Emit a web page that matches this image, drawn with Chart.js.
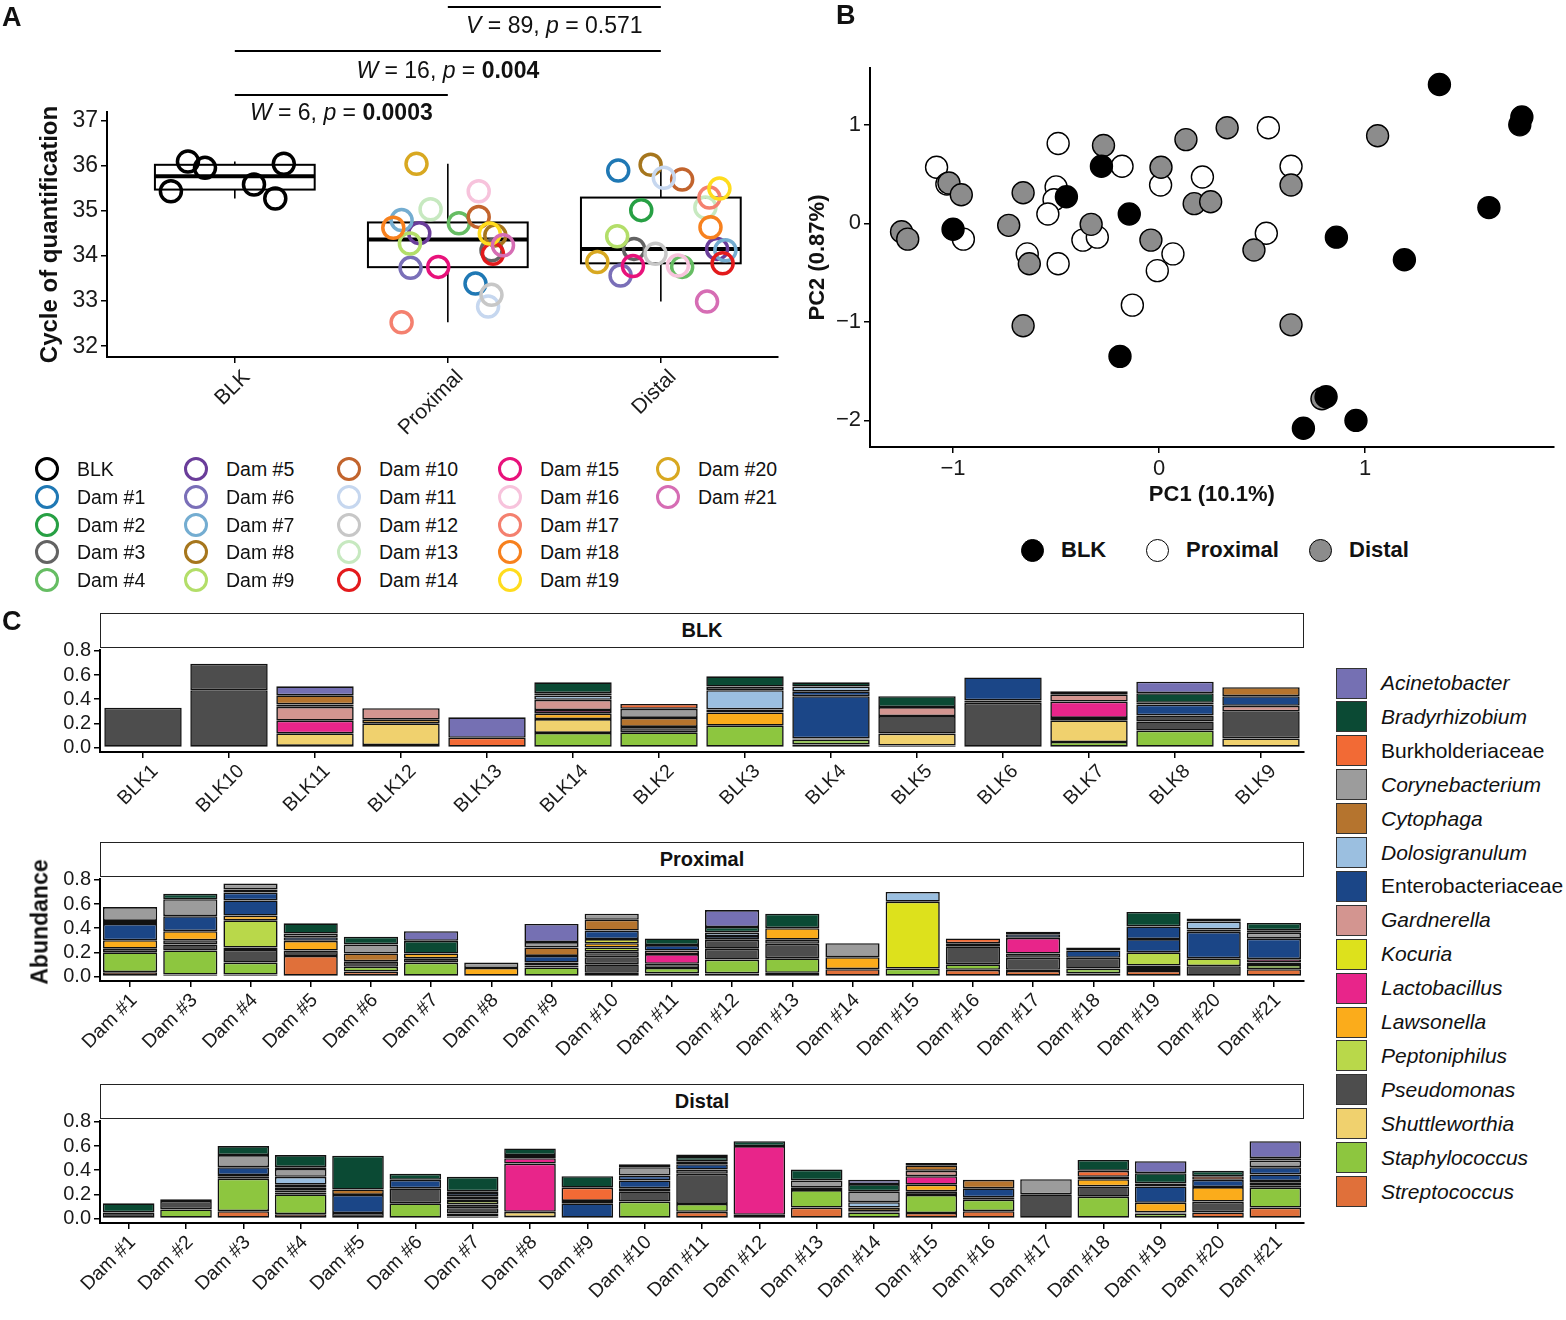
<!DOCTYPE html>
<html>
<head>
<meta charset="utf-8">
<script src="https://cdn.jsdelivr.net/npm/chart.js@4.4.1/dist/chart.umd.min.js"></script>
<style>
  body { margin: 0; background: #fff; font-family: 'Liberation Sans', Arial, sans-serif; color: #111; }
  #page { position: relative; width: 1566px; height: 1320px; overflow: hidden; }
  canvas { position: absolute; }
  .abs { position: absolute; white-space: nowrap; }
  .letter { font-weight: bold; font-size: 27px; }
  .strip { position: absolute; left: 100px; width: 1204px; border: 1.5px solid #222; box-sizing: border-box;
           background: #fff; text-align: center; font-weight: bold; font-size: 20px; }
  .ring { position: absolute; width: 24px; height: 24px; border-radius: 50%; box-sizing: border-box; border: 3.5px solid #000; }
  .dot { position: absolute; width: 23px; height: 23px; border-radius: 50%; box-sizing: border-box; border: 1.5px solid #000; }
  .sq { position: absolute; width: 31px; height: 31px; box-sizing: border-box; border: 1.5px solid #333; }
</style>
</head>
<body>
<div id="page">
  <canvas id="cqChart" width="800" height="450" style="left:0;top:0"></canvas>
  <canvas id="pcaChart" width="766" height="520" style="left:800px;top:0"></canvas>
  <canvas id="blkChart" width="1320" height="200" style="left:0;top:635px"></canvas>
  <canvas id="proxChart" width="1320" height="215" style="left:0;top:864px"></canvas>
  <canvas id="distChart" width="1320" height="214" style="left:0;top:1106px"></canvas>

  <div class="abs letter" style="left:2px;top:2px">A</div>
  <div class="abs letter" style="left:836px;top:0px">B</div>
  <div class="abs letter" style="left:2px;top:606px">C</div>

  <div class="strip" style="top:613px;height:35px;line-height:32px">BLK</div>
  <div class="strip" style="top:842px;height:35px;line-height:32px">Proximal</div>
  <div class="strip" style="top:1084px;height:35px;line-height:32px">Distal</div>
  <div class="abs" style="left:40px;top:922px;transform:translate(-50%,-50%) rotate(-90deg);font-weight:bold;font-size:23px">Abundance</div>

  <div id="legendA"></div>
  <div id="legendB"></div>
  <div id="legendC"></div>
</div>

<script>
// ---------- panel A: Cq values ----------
const groups = ['BLK', 'Proximal', 'Distal'];
const damColors = ['#1f78b4', '#27a044', '#636363', '#66bd63', '#6a3d9a', '#7a6fb8', '#74add1',
  '#a6761d', '#b3de69', '#c2642d', '#c6d7ef', '#c7c7c7', '#c7e9c0', '#e31a1c',
  '#e8127b', '#f7c3dc', '#f4806f', '#f7811e', '#ffdc1e', '#d8a821', '#d66db4'];

const blkCq = [35.44, 36.10, 35.96, 35.59, 35.28, 36.05];
const blkJitter = [-0.30, -0.22, -0.14, 0.09, 0.19, 0.23];

const proxDams = [1, 3, 4, 5, 6, 7, 8, 9, 10, 11, 12, 13, 14, 15, 16, 17, 18, 19, 20, 21];
const proxCq = [33.39, 34.13, 34.73, 34.51, 33.74, 34.80, 34.46, 34.28, 34.87, 32.88,
  33.14, 35.04, 34.05, 33.76, 35.44, 32.53, 34.63, 34.50, 36.05, 34.24];
const proxJitter = [0.13, 0.205, 0.052, -0.134, -0.175, -0.217, 0.223, -0.178, 0.145, 0.189,
  0.205, -0.081, 0.212, -0.045, 0.145, -0.217, -0.256, 0.197, -0.147, 0.259];

const distDams = [1, 2, 3, 4, 5, 6, 7, 8, 9, 10, 11, 12, 13, 14, 15, 16, 17, 18, 19, 20, 21];
const distCq = [35.90, 35.02, 34.16, 33.76, 34.16, 33.57, 34.13, 36.03, 34.44, 35.70, 35.74,
  34.05, 35.08, 33.84, 33.78, 33.79, 35.30, 34.64, 35.50, 33.87, 32.99];
const distJitter = [-0.20, -0.092, -0.126, 0.10, 0.264, -0.189, 0.303, -0.048, -0.205, 0.10, 0.014,
  -0.025, 0.209, 0.29, -0.131, 0.08, 0.228, 0.233, 0.275, -0.298, 0.217];

const cqTicks = [32, 33, 34, 35, 36, 37];

// ---------- panel B: PCA ----------
const pcaBlkX = [1.36, 1.76, 1.75, 1.60, 0.86, 1.19, -0.145, -0.28, -0.45, -1.0, -0.19, 0.81, 0.70, 0.955];
const pcaBlkY = [1.41, 1.08, 1.00, 0.16, -0.14, -0.37, 0.095, 0.58, 0.27, -0.06, -1.35, -1.76, -2.08, -2.00];
const pcaProxX = [-1.08, -1.03, -0.95, -0.49, -0.50, -0.51, -0.54, -0.37, -0.30, -0.18, -0.64, -0.49,
  0.007, 0.21, 0.067, -0.009, -0.13, 0.53, 0.64, 0.52];
const pcaProxY = [0.57, 0.40, -0.16, 0.81, 0.37, 0.24, 0.095, -0.17, -0.14, 0.58, -0.31, -0.41,
  0.39, 0.47, -0.31, -0.48, -0.83, 0.97, 0.58, -0.10];
const pcaDistX = [-1.25, -1.22, -1.02, -0.96, -0.66, -0.73, -0.63, -0.66, -0.27, -0.33, 0.009,
  -0.04, 0.13, 0.17, 0.25, 0.33, 0.46, 0.64, 0.64, 1.06, 0.79];
const pcaDistY = [-0.085, -0.16, 0.41, 0.29, 0.31, -0.02, -0.41, -1.04, 0.79, -0.01, 0.57,
  -0.17, 0.85, 0.20, 0.22, 0.97, -0.27, 0.39, -1.03, 0.89, -1.78];

// ---------- panel C: taxa ----------
const taxa = ['Acinetobacter', 'Bradyrhizobium', 'Burkholderiaceae', 'Corynebacterium', 'Cytophaga',
  'Dolosigranulum', 'Enterobacteriaceae', 'Gardnerella', 'Kocuria', 'Lactobacillus', 'Lawsonella',
  'Peptoniphilus', 'Pseudomonas', 'Shuttleworthia', 'Staphylococcus', 'Streptococcus'];
const taxaCodes = ['Acin', 'Brad', 'Burk', 'Cory', 'Cyto', 'Dolo', 'Ente', 'Gard', 'Koc', 'Lact',
  'Laws', 'Pept', 'Pseu', 'Shut', 'Stap', 'Strp'];
const taxaColors = ['#7570b3', '#0b4a34', '#f26a35', '#9c9c9c', '#b5742e', '#9bbfe0', '#1b4687',
  '#d39590', '#dde11c', '#e8258a', '#fbac1b', '#b9d84a', '#4d4d4d', '#f0d16e', '#8dc63f', '#e0703a'];
const familyNames = ['Burkholderiaceae', 'Enterobacteriaceae'];
const abundanceTicks = [0, 0.2, 0.4, 0.6, 0.8];

// segments per sample; an array means several segments of one taxon, top first
const blkSamples = ['BLK1', 'BLK10', 'BLK11', 'BLK12', 'BLK13', 'BLK14', 'BLK2',
  'BLK3', 'BLK4', 'BLK5', 'BLK6', 'BLK7', 'BLK8', 'BLK9'];
const blkStacks = [
  { Pseu: 0.33 },
  { Pseu: [0.22, 0.474] },
  { Acin: 0.075, Cyto: 0.075, Dolo: 0.02, Gard: 0.115, Lact: 0.105, Shut: 0.105, Stap: 0.012 },
  { Gard: 0.095, Laws: 0.03, Shut: 0.18, Stap: 0.02 },
  { Acin: 0.17, Burk: 0.08 },
  { Brad: 0.09, Burk: 0.02, Dolo: 0.035, Gard: 0.085, Lact: 0.03, Laws: 0.045, Shut: 0.115, Stap: 0.12 },
  { Burk: 0.04, Cory: 0.075, Cyto: 0.075, Pseu: 0.045, Stap: 0.125 },
  { Brad: 0.085, Cory: 0.03, Dolo: 0.16, Ente: 0.025, Laws: 0.11, Stap: 0.18 },
  { Brad: 0.035, Dolo: 0.04, Ente: [0.04, 0.35], Pseu: 0.01, Stap: 0.04, Strp: 0.025 },
  { Brad: 0.09, Gard: 0.075, Pseu: 0.145, Shut: 0.1, Stap: 0.015 },
  { Ente: 0.19, Pseu: [0.02, 0.37] },
  { Brad: 0.025, Gard: 0.06, Lact: 0.135, Pseu: 0.02, Shut: 0.18, Stap: 0.045 },
  { Acin: 0.095, Brad: 0.08, Ente: [0.015, 0.09], Pseu: [0.05, 0.075], Stap: 0.14 },
  { Cyto: 0.075, Ente: 0.08, Gard: 0.045, Pseu: 0.225, Shut: 0.075 }
];

const proxSamples = proxDams.map(d => 'Dam #' + d);
const proxStacks = [
  { Cory: 0.115, Ente: [0.025, 0.135], Laws: 0.07, Pseu: 0.03, Stap: 0.165, Strp: 0.035 },
  { Brad: 0.045, Cory: 0.14, Ente: 0.125, Laws: 0.075, Pseu: [0.035, 0.05], Stap: 0.2, Strp: 0.015 },
  { Cory: 0.05, Dolo: 0.025, Ente: [0.065, 0.125], Laws: 0.04, Pept: 0.225, Pseu: [0.02, 0.105], Stap: 0.1, Strp: 0.015 },
  { Brad: 0.085, Cory: 0.03, Ente: 0.03, Laws: 0.08, Pseu: 0.045, Strp: 0.17 },
  { Brad: 0.065, Cory: 0.075, Cyto: 0.065, Pseu: 0.045, Stap: 0.04, Strp: 0.04 },
  { Acin: 0.08, Brad: 0.105, Laws: 0.04, Pseu: 0.035, Stap: 0.115 },
  { Cory: 0.045, Laws: 0.07 },
  { Acin: 0.15, Cory: 0.045, Cyto: 0.07, Ente: 0.055, Laws: 0.025, Pseu: 0.015, Stap: 0.075 },
  { Cory: 0.05, Cyto: 0.09, Ente: 0.07, Koc: 0.035, Laws: 0.035, Pept: 0.035, Pseu: [0.045, 0.06, 0.07, 0.03] },
  { Brad: 0.055, Ente: 0.045, Gard: 0.03, Lact: 0.08, Pseu: 0.035, Stap: 0.045, Strp: 0.025 },
  { Acin: 0.14, Brad: 0.045, Dolo: 0.03, Ente: 0.03, Pseu: [0.075, 0.09], Stap: 0.115, Strp: 0.025 },
  { Brad: 0.12, Laws: 0.095, Pseu: [0.035, 0.12], Stap: 0.12, Strp: 0.03 },
  { Cory: 0.115, Laws: 0.1, Strp: 0.06 },
  { Dolo: 0.08, Koc: 0.555, Stap: 0.065 },
  { Burk: 0.04, Pseu: [0.025, 0.15], Stap: 0.045, Strp: 0.055 },
  { Burk: 0.02, Ente: 0.03, Lact: 0.13, Pseu: [0.035, 0.1, 0.01], Strp: 0.045 },
  { Brad: 0.025, Ente: 0.06, Pseu: 0.09, Stap: 0.04, Strp: 0.025 },
  { Brad: 0.12, Ente: [0.105, 0.11], Pept: 0.11, Pseu: 0.02, Stap: 0.025, Strp: 0.045 },
  { Brad: 0.025, Dolo: 0.065, Ente: [0.02, 0.22], Pept: 0.065, Pseu: 0.085 },
  { Brad: 0.06, Burk: 0.02, Cory: 0.05, Ente: 0.17, Lact: 0.028, Pseu: 0.02, Stap: 0.035, Strp: 0.06 }
];

const distSamples = distDams.map(d => 'Dam #' + d);
const distStacks = [
  { Brad: 0.075, Pseu: 0.05 },
  { Brad: 0.015, Pseu: 0.07, Stap: 0.075 },
  { Brad: 0.075, Cory: 0.1, Ente: 0.065, Pseu: [0.015, 0.015], Stap: 0.27, Strp: 0.06 },
  { Brad: 0.1, Burk: 0.015, Cory: 0.065, Dolo: 0.065, Ente: 0.025, Laws: 0.025, Pseu: 0.015, Shut: 0.015, Stap: 0.165, Strp: 0.035 },
  { Brad: 0.28, Cyto: 0.045, Ente: 0.15, Pseu: 0.045 },
  { Brad: 0.05, Ente: 0.07, Pseu: 0.125, Stap: 0.125 },
  { Brad: 0.12, Cyto: 0.015, Ente: 0.03, Lact: 0.02, Laws: 0.015, Pept: 0.03, Pseu: [0.03, 0.045], Stap: 0.025, Strp: 0.015 },
  { Brad: 0.055, Gard: 0.025, Lact: [0.045, 0.4], Shut: 0.045, Stap: 0.01 },
  { Brad: 0.095, Burk: 0.11, Cyto: 0.02, Ente: 0.125 },
  { Brad: 0.025, Cory: 0.07, Ente: [0.04, 0.065], Pseu: [0.025, 0.085], Stap: 0.14 },
  { Acin: 0.02, Brad: 0.035, Ente: [0.025, 0.045], Pseu: [0.035, 0.25], Stap: 0.065, Strp: 0.055 },
  { Brad: 0.04, Lact: 0.57, Pseu: 0.03 },
  { Brad: 0.09, Cory: 0.06, Laws: 0.02, Stap: 0.145, Strp: 0.09 },
  { Acin: 0.035, Brad: 0.06, Cory: 0.09, Dolo: 0.045, Laws: 0.03, Pseu: 0.01, Stap: 0.05 },
  { Brad: 0.02, Cyto: 0.045, Gard: 0.045, Lact: 0.07, Laws: 0.055, Pseu: 0.03, Stap: 0.15, Strp: 0.045 },
  { Cyto: 0.07, Ente: 0.075, Laws: 0.02, Stap: 0.095, Strp: 0.06 },
  { Cory: 0.125, Pseu: 0.2 },
  { Brad: 0.09, Burk: 0.05, Cory: 0.02, Laws: 0.06, Pseu: 0.085, Stap: 0.18 },
  { Acin: 0.1, Brad: [0.085, 0.025], Ente: 0.135, Laws: 0.08, Pseu: 0.01, Stap: 0.04 },
  { Brad: 0.045, Burk: 0.03, Ente: 0.06, Laws: 0.12, Pseu: 0.09, Strp: 0.05 },
  { Acin: 0.14, Brad: 0.02, Cory: 0.055, Ente: [0.06, 0.055], Laws: 0.015, Pseu: [0.02, 0.02], Stap: 0.165, Strp: 0.09 }
];

// ---------- common ----------
const FONT = "'Liberation Sans', Arial, sans-serif";
Chart.defaults.font.family = FONT;
Chart.defaults.color = '#1a1a1a';

function axisGrid() {
  return { display: true, drawOnChartArea: false, color: '#000', lineWidth: 1.5, tickLength: 6 };
}
const axisBorder = { display: true, color: '#000', width: 2 };

// ---------- A ----------
function quantile(sorted, q) {
  const pos = (sorted.length - 1) * q, lo = Math.floor(pos), hi = Math.ceil(pos);
  return sorted[lo] + (sorted[hi] - sorted[lo]) * (pos - lo);
}

const cqGroups = [blkCq, proxCq, distCq];

const boxPlugin = {
  id: 'boxes',
  beforeDatasetsDraw(chart) {
    const { ctx, scales: { x, y } } = chart;
    ctx.save();
    ctx.strokeStyle = '#000';
    cqGroups.forEach((vals, i) => {
      const s = [...vals].sort((a, b) => a - b);
      const q1 = quantile(s, 0.25), med = quantile(s, 0.5), q3 = quantile(s, 0.75);
      const iqr = q3 - q1;
      const lo = Math.min(...s.filter(v => v >= q1 - 1.5 * iqr));
      const hi = Math.max(...s.filter(v => v <= q3 + 1.5 * iqr));
      const cx = x.getPixelForValue(i + 1);
      const x0 = x.getPixelForValue(i + 1 - 0.375), x1 = x.getPixelForValue(i + 1 + 0.375);
      ctx.lineWidth = 1.6;
      ctx.beginPath();
      ctx.moveTo(cx, y.getPixelForValue(q3)); ctx.lineTo(cx, y.getPixelForValue(hi));
      ctx.moveTo(cx, y.getPixelForValue(q1)); ctx.lineTo(cx, y.getPixelForValue(lo));
      ctx.stroke();
      ctx.lineWidth = 2;
      ctx.strokeRect(x0, y.getPixelForValue(q3), x1 - x0, y.getPixelForValue(q1) - y.getPixelForValue(q3));
      ctx.lineWidth = 4;
      ctx.beginPath();
      ctx.moveTo(x0, y.getPixelForValue(med)); ctx.lineTo(x1, y.getPixelForValue(med));
      ctx.stroke();
    });
    ctx.restore();
  }
};

// pairwise tests drawn above the plot
const tests = [
  { from: 2, to: 3, lineY: 7, textY: 27, parts: [['V', 'italic'], [' = 89, '], ['p', 'italic'], [' = 0.571']] },
  { from: 1, to: 3, lineY: 51, textY: 72, parts: [['W', 'italic'], [' = 16, '], ['p', 'italic'], [' = '], ['0.004', 'bold']] },
  { from: 1, to: 2, lineY: 95, textY: 114, parts: [['W', 'italic'], [' = 6, '], ['p', 'italic'], [' = '], ['0.0003', 'bold']] }
];

const testPlugin = {
  id: 'tests',
  afterDraw(chart) {
    const { ctx, scales: { x } } = chart;
    ctx.save();
    tests.forEach(t => {
      const xa = x.getPixelForValue(t.from), xb = x.getPixelForValue(t.to);
      ctx.strokeStyle = '#000'; ctx.lineWidth = 2;
      ctx.beginPath(); ctx.moveTo(xa, t.lineY); ctx.lineTo(xb, t.lineY); ctx.stroke();
      const fonts = t.parts.map(p => (p[1] || '') + ' 23px ' + FONT);
      let w = 0;
      t.parts.forEach((p, i) => { ctx.font = fonts[i]; w += ctx.measureText(p[0]).width; });
      let px = (xa + xb) / 2 - w / 2;
      ctx.fillStyle = '#111'; ctx.textBaseline = 'middle'; ctx.textAlign = 'left';
      t.parts.forEach((p, i) => { ctx.font = fonts[i]; ctx.fillText(p[0], px, t.textY); px += ctx.measureText(p[0]).width; });
    });
    ctx.restore();
  }
};

const cqPoints = [], cqColors = [];
blkCq.forEach((v, i) => { cqPoints.push({ x: 1 + blkJitter[i], y: v }); cqColors.push('#000'); });
proxCq.forEach((v, i) => { cqPoints.push({ x: 2 + proxJitter[i], y: v }); cqColors.push(damColors[proxDams[i] - 1]); });
distCq.forEach((v, i) => { cqPoints.push({ x: 3 + distJitter[i], y: v }); cqColors.push(damColors[distDams[i] - 1]); });

new Chart(document.getElementById('cqChart'), {
  type: 'scatter',
  data: { datasets: [{ data: cqPoints, borderColor: cqColors, backgroundColor: 'rgba(0,0,0,0)',
    pointRadius: 10.5, pointBorderWidth: 3.5 }] },
  options: {
    responsive: false, animation: false, events: [],
    layout: { padding: { top: 112, right: 22, left: 0, bottom: 0 } },
    plugins: { legend: { display: false }, tooltip: { enabled: false } },
    scales: {
      x: {
        type: 'linear', min: 0.4, max: 3.55,
        grid: axisGrid(), border: axisBorder,
        afterBuildTicks: s => { s.ticks = [1, 2, 3].map(v => ({ value: v })); },
        afterFit: s => { s.height = 93; },
        ticks: { minRotation: 45, maxRotation: 45, font: { size: 21 }, padding: 2, labelOffset: 12,
          callback: v => groups[v - 1] }
      },
      y: {
        min: 31.76, max: 37.2,
        grid: axisGrid(), border: axisBorder,
        afterBuildTicks: s => { s.ticks = cqTicks.map(v => ({ value: v })); },
        afterFit: s => { s.width = 107; },
        ticks: { font: { size: 23 }, padding: 3, autoSkip: false },
        title: { display: true, text: 'Cycle of quantification', font: { size: 24, weight: 'bold' },
          color: '#111', padding: { top: 36, bottom: 0 } }
      }
    }
  },
  plugins: [boxPlugin, testPlugin]
});

// legend A
const legendA = document.getElementById('legendA');
const legendAItems = [['BLK', '#000']].concat(damColors.map((c, i) => ['Dam #' + (i + 1), c]));
const colCircleX = [47, 196, 349, 510, 668];
legendAItems.forEach((item, i) => {
  const col = Math.floor(i / 5), row = i % 5;
  const cy = 469 + row * 27.8;
  legendA.insertAdjacentHTML('beforeend',
    `<div class="ring" style="left:${colCircleX[col] - 12}px;top:${cy - 12}px;border-color:${item[1]}"></div>` +
    `<div class="abs" style="left:${colCircleX[col] + 30}px;top:${cy - 12}px;font-size:19.5px;line-height:24px">${item[0]}</div>`);
});

// ---------- B ----------
const toXY = (xs, ys) => xs.map((v, i) => ({ x: v, y: ys[i] }));
const minusFmt = v => (v < 0 ? '\u2212' + Math.abs(v) : String(v));

new Chart(document.getElementById('pcaChart'), {
  type: 'scatter',
  data: {
    datasets: [
      { label: 'BLK', data: toXY(pcaBlkX, pcaBlkY), backgroundColor: '#000', borderColor: '#000' },
      { label: 'Distal', data: toXY(pcaDistX, pcaDistY), backgroundColor: '#8c8c8c', borderColor: '#000' },
      { label: 'Proximal', data: toXY(pcaProxX, pcaProxY), backgroundColor: '#fff', borderColor: '#000' }
    ]
  },
  options: {
    responsive: false, animation: false, events: [],
    elements: { point: { radius: 11, borderWidth: 1.4 } },
    layout: { padding: { top: 68, right: 1, left: 0, bottom: 0 } },
    plugins: { legend: { display: false }, tooltip: { enabled: false } },
    scales: {
      x: {
        type: 'linear', min: -1.403, max: 1.914,
        grid: axisGrid(), border: axisBorder,
        afterBuildTicks: s => { s.ticks = [-1, 0, 1].map(v => ({ value: v })); },
        afterFit: s => { s.height = 73; },
        ticks: { maxRotation: 0, font: { size: 22 }, padding: 3, callback: minusFmt },
        title: { display: true, text: 'PC1 (10.1%)', font: { size: 22, weight: 'bold' }, color: '#111',
          padding: { top: 0, bottom: 12 } }
      },
      y: {
        min: -2.27, max: 1.577,
        grid: axisGrid(), border: axisBorder,
        afterBuildTicks: s => { s.ticks = [-2, -1, 0, 1].map(v => ({ value: v })); },
        afterFit: s => { s.width = 70; },
        ticks: { font: { size: 22 }, padding: 3, callback: minusFmt, autoSkip: false },
        title: { display: true, text: 'PC2 (0.87%)', font: { size: 22, weight: 'bold' }, color: '#111',
          padding: { top: 5, bottom: 0 } }
      }
    }
  }
});

// legend B
const legendB = document.getElementById('legendB');
[['BLK', '#000', 1032], ['Proximal', '#fff', 1157], ['Distal', '#8c8c8c', 1320]].forEach(item => {
  legendB.insertAdjacentHTML('beforeend',
    `<div class="dot" style="left:${item[2] - 11.5}px;top:${550 - 11.5}px;background:${item[1]}"></div>` +
    `<div class="abs" style="left:${item[2] + 29}px;top:537px;font-size:22px;font-weight:bold;line-height:26px">${item[0]}</div>`);
});

// ---------- C ----------
function buildDatasets(stacks) {
  const sets = [];
  for (let t = taxa.length - 1; t >= 0; t--) {
    const parts = stacks.map(s => (s[taxaCodes[t]] === undefined ? [] : [].concat(s[taxaCodes[t]])));
    const depth = Math.max(0, ...parts.map(p => p.length));
    for (let j = depth - 1; j >= 0; j--) {
      sets.push({
        label: taxa[t],
        data: parts.map(p => (p[j] === undefined ? null : p[j])),
        backgroundColor: taxaColors[t],
        borderColor: '#111',
        borderWidth: 1.6,
        borderSkipped: false,
        barPercentage: 0.9,
        categoryPercentage: 1
      });
    }
  }
  return sets;
}

function facetChart(id, labels, stacks, xHeight, shift) {
  return new Chart(document.getElementById(id), {
    type: 'bar',
    data: { labels: labels, datasets: buildDatasets(stacks) },
    options: {
      responsive: false, animation: false, events: [],
      layout: { padding: { top: 12, right: 16, left: 0, bottom: 0 } },
      plugins: { legend: { display: false }, tooltip: { enabled: false } },
      scales: {
        x: {
          stacked: true,
          grid: Object.assign(axisGrid(), { offset: false }), border: axisBorder,
          afterFit: s => { s.height = xHeight; },
          ticks: { autoSkip: false, minRotation: 45, maxRotation: 45, font: { size: 19.5 }, padding: 2, labelOffset: shift }
        },
        y: {
          stacked: true, min: -0.038, max: 0.808,
          grid: axisGrid(), border: axisBorder,
          afterBuildTicks: s => { s.ticks = abundanceTicks.map(v => ({ value: v })); },
          afterFit: s => { s.width = 100; },
          ticks: { font: { size: 20 }, padding: 3, autoSkip: false, callback: v => v.toFixed(1) }
        }
      }
    }
  });
}

facetChart('blkChart', blkSamples, blkStacks, 83, 12);
facetChart('proxChart', proxSamples, proxStacks, 98, 4);
facetChart('distChart', distSamples, distStacks, 97, 4);

// legend C
const legendC = document.getElementById('legendC');
taxa.forEach((name, i) => {
  const cy = 683 + i * 33.9;
  const style = familyNames.includes(name) ? 'normal' : 'italic';
  legendC.insertAdjacentHTML('beforeend',
    `<div class="sq" style="left:1336px;top:${cy - 15.5}px;background:${taxaColors[i]}"></div>` +
    `<div class="abs" style="left:1381px;top:${cy - 13}px;font-size:21px;line-height:26px;font-style:${style}">${name}</div>`);
});
</script>
</body>
</html>
